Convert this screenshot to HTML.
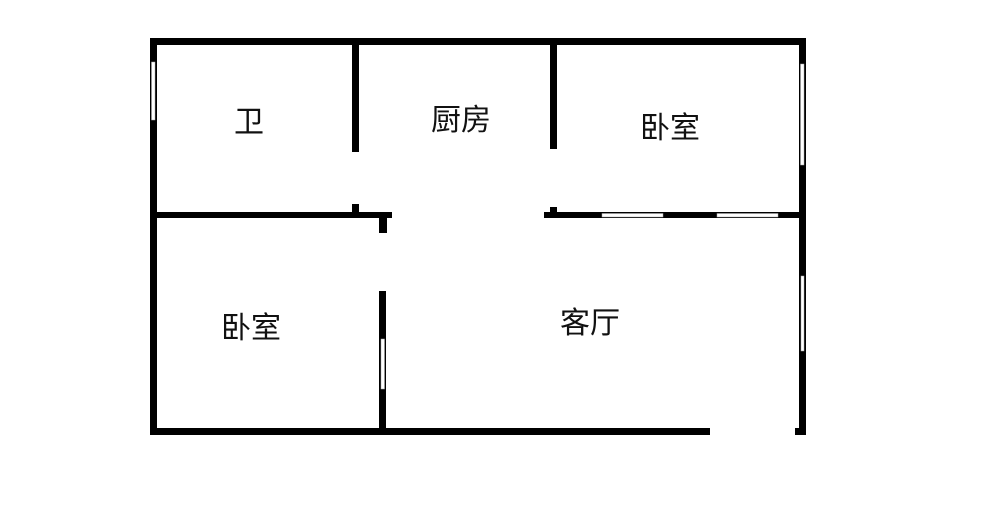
<!DOCTYPE html>
<html>
<head>
<meta charset="utf-8">
<style>
html,body{margin:0;padding:0;background:#fff;width:1000px;height:523px;overflow:hidden}
svg{display:block;filter:blur(0.35px)}
text{font-family:"Liberation Sans","Noto Sans CJK SC",sans-serif;font-size:30px;fill:#111;font-weight:400;text-anchor:middle}
</style>
</head>
<body>
<svg width="1000" height="523" viewBox="0 0 1000 523" xmlns="http://www.w3.org/2000/svg">
<rect width="1000" height="523" fill="#fff"/>
<g fill="#000">
<rect x="150" y="38" width="656" height="7"/>
<rect x="150" y="38" width="7" height="397"/>
<rect x="799" y="38" width="7" height="397"/>
<rect x="795" y="428" width="11" height="7"/>
<rect x="150" y="428" width="560" height="7"/>
<rect x="352" y="44" width="7" height="108"/>
<rect x="550" y="44" width="7" height="105"/>
<rect x="150" y="212" width="242" height="6"/>
<rect x="352" y="204" width="7" height="9"/>
<rect x="379" y="217" width="8" height="16"/>
<rect x="544" y="212" width="256" height="6"/>
<rect x="550" y="207" width="7" height="6"/>
<rect x="379" y="291" width="7" height="138"/>
</g>
<g fill="#fff" stroke="#aaa" stroke-width="0.5">
<rect x="151.5" y="62" width="3.5" height="58"/>
<rect x="602" y="213.5" width="61" height="3.5"/>
<rect x="717" y="213.5" width="61" height="3.5"/>
<rect x="800.5" y="64" width="3.5" height="101"/>
<rect x="801" y="276" width="3" height="75"/>
<rect x="381" y="339" width="3.5" height="50"/>
</g>
<text x="249" y="132">卫</text>
<text x="461" y="130">厨房</text>
<text x="670" y="138">卧室</text>
<text x="251" y="338">卧室</text>
<text x="590" y="333">客厅</text>
</svg>
</body>
</html>
